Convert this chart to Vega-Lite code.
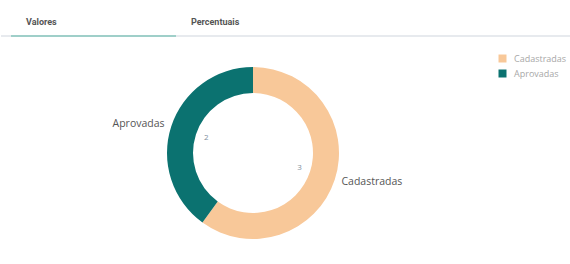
{
  "$schema": "https://vega.github.io/schema/vega-lite/v6.json",
  "padding": 0,
  "background": "white",
  "config": {
    "view": {"stroke": null},
    "font": "Roboto",
    "concat": {"spacing": 5}
  },
  "resolve": {"legend": {"color": "independent"}},
  "vconcat": [
    {
      "width": 570,
      "height": 37,
      "data": {"values": [
        {"tab": "Valores", "ativo": true},
        {"tab": "Percentuais", "ativo": false}
      ]},
      "layer": [
        {
          "mark": {"type": "rule", "color": "#e6e9ec", "strokeWidth": 1.5},
          "encoding": {"y": {"datum": 0.03, "type": "quantitative", "scale": {"domain": [0, 1]}, "axis": null}}
        },
        {
          "transform": [{"filter": "datum.ativo"}],
          "mark": {"type": "rect", "color": "#9fcfc9"},
          "encoding": {
            "x": {"field": "tab", "type": "nominal", "scale": {"type": "band", "domain": ["Valores", "Percentuais"], "range": [10, 340], "paddingInner": 0, "paddingOuter": 0}, "axis": null},
            "y": {"datum": 0, "type": "quantitative", "scale": {"domain": [0, 1]}, "axis": null},
            "y2": {"datum": 0.055}
          }
        },
        {
          "mark": {"type": "text", "align": "left", "baseline": "middle", "fontSize": 9, "fontWeight": "bold", "color": "#555555", "dy": 3},
          "encoding": {
            "x": {"field": "tab", "type": "nominal", "scale": {"type": "point", "domain": ["Valores", "Percentuais"], "range": [25, 190], "padding": 0}, "axis": null},
            "text": {"field": "tab"}
          }
        }
      ],
      "resolve": {"scale": {"x": "independent"}}
    },
    {
      "width": 504,
      "height": 222,
      "data": {"values": [
        {"status": "Cadastradas", "valor": 3},
        {"status": "Aprovadas", "valor": 2}
      ]},
      "encoding": {
        "theta": {"field": "valor", "type": "quantitative", "stack": true},
        "order": {"field": "valor", "sort": "descending"}
      },
      "layer": [
        {
          "mark": {"type": "arc", "innerRadius": 60, "outerRadius": 86},
          "encoding": {
            "color": {
              "field": "status",
              "type": "nominal",
              "scale": {"domain": ["Cadastradas", "Aprovadas"], "range": ["#f8c899", "#0b7270"]},
              "legend": {
                "title": null,
                "orient": "none",
                "legendX": 497,
                "legendY": 12,
                "symbolType": "square",
                "symbolSize": 64,
                "symbolStrokeWidth": 0,
                "labelFont": "Open Sans",
                "labelFontSize": 9,
                "labelColor": "#a8a8a8",
                "labelOffset": 7,
                "rowPadding": 5
              }
            }
          }
        },
        {
          "mark": {"type": "text", "radius": 49, "fontSize": 8, "font": "Open Sans", "color": "#7f8fa0"},
          "encoding": {"text": {"field": "valor", "type": "quantitative"}}
        },
        {
          "mark": {"type": "text", "radius": 93, "align": "right", "baseline": "middle", "fontSize": 10.5, "font": "Open Sans", "color": "#555555"},
          "encoding": {"text": {"condition": {"test": "datum.status === 'Aprovadas'", "field": "status"}, "value": ""}}
        },
        {
          "mark": {"type": "text", "radius": 93, "align": "left", "baseline": "middle", "fontSize": 10.5, "font": "Open Sans", "color": "#555555"},
          "encoding": {"text": {"condition": {"test": "datum.status === 'Cadastradas'", "field": "status"}, "value": ""}}
        }
      ]
    }
  ]
}
